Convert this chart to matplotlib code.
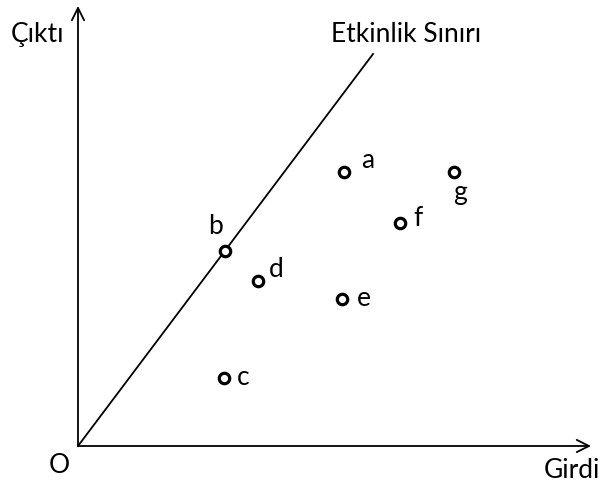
import matplotlib.pyplot as plt

plt.rcParams['font.family'] = ['Lato', 'DejaVu Sans']

# points (girdi, cikti) measured from origin O
names = ['a', 'b', 'c', 'd', 'e', 'f', 'g']
girdi = [266, 147, 146, 180, 264, 322, 376]
cikti = [274, 195, 68, 165, 147, 223, 274]
# label offsets in points
lbl_dx = [17, -7, 14, 13, 16, 13, 4]
lbl_dy = [9, 18, 1, 9, 1, 4, -14]

frontier_x = [0, 295]
frontier_y = [0, 392]

fig = plt.figure(figsize=(6.03, 4.89), dpi=100)
ax = fig.add_axes([0, 0, 1, 1])
ax.set_xlim(-78, 525)
ax.set_ylim(-42, 447)
ax.axis('off')

# axes arrows
ax.annotate('', xy=(513, 0), xytext=(0, 0),
            arrowprops=dict(arrowstyle='->', lw=1.3, color='black', mutation_scale=22, shrinkA=0, shrinkB=0))
ax.annotate('', xy=(0, 440), xytext=(0, 0),
            arrowprops=dict(arrowstyle='->', lw=1.3, color='black', mutation_scale=22, shrinkA=0, shrinkB=0))

ax.plot(frontier_x, frontier_y, color='black', lw=1.3)

ax.plot(girdi, cikti, 'o', ms=7.5, mfc='white', mec='black', mew=2.3, zorder=3)
for n, x, y, dx, dy in zip(names, girdi, cikti, lbl_dx, lbl_dy):
    ax.annotate(n, (x, y), xytext=(dx, dy), textcoords='offset points',
                ha='center', va='center', fontsize=19)

ax.text(-40, 412, 'Çıktı', fontsize=19, ha='center', va='center')
ax.text(328, 412, 'Etkinlik Sınırı', fontsize=19, ha='center', va='center')
ax.text(494, -24, 'Girdi', fontsize=19, ha='center', va='center')
ax.text(-8, -19, 'O', fontsize=19, ha='right', va='center')

fig.savefig('out.png', dpi=100)
